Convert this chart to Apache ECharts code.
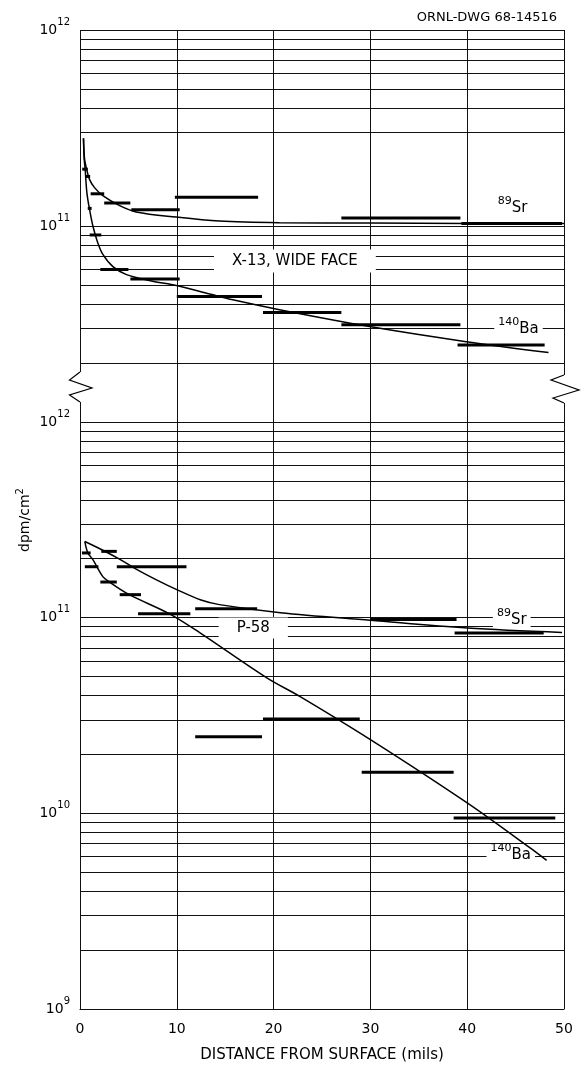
<!DOCTYPE html>
<html><head><meta charset="utf-8">
<script src="https://cdn.jsdelivr.net/npm/echarts@6/dist/echarts.min.js"></script>
<style>html,body{margin:0;padding:0;background:#fff}#c{width:581px;height:1065px}</style>
</head><body><div id="c"></div>
<script>
// ---------- data ----------
const xTicks = [0, 10, 20, 30, 40, 50];
// horizontal rulings of the semi-log paper
const topGridValues = [2e10,3e10,4e10,5e10,6e10,7e10,8e10,9e10,1e11,3e11,4e11,5e11,6e11,7e11,8e11,9e11,1e12];
const bottomGridValues = [1e9,2e9,3e9,4e9,5e9,6e9,7e9,8e9,9e9,1e10,2e10,3e10,4e10,5e10,6e10,7e10,8e10,9e10,1e11,2e11,3e11,4e11,5e11,6e11,7e11,8e11,9e11,1e12];

// X-13, wide face (top panel): fitted curves [x, dpm/cm2]
const topSrCurve = [[0.36,2.8e11],[0.47,2.2e11],[0.64,1.99e11],[0.98,1.73e11],[1.5,1.57e11],[2.36,1.43e11],[4.1,1.27e11],[5.8,1.18e11],[9.95,1.11e11],[14.4,1.06e11],[20.6,1.04e11],[30,1.035e11],[40,1.03e11],[50,1.03e11]];
const topBaCurve = [[0.36,2.8e11],[0.43,2.2e11],[0.53,1.96e11],[0.71,1.48e11],[0.98,1.22e11],[1.33,1.0e11],[1.84,8.2e10],[2.36,7.16e10],[3.4,6.2e10],[4.8,5.65e10],[7.5,5.23e10],[9.95,4.97e10],[13.4,4.5e10],[15.8,4.2e10],[20.6,3.74e10],[29.9,3.07e10],[39.9,2.57e10],[48.4,2.26e10]];
// measured sections [x from, x to, dpm/cm2]
const topSrBars = [[0.23,0.81,1.95e11],[0.57,1.05,1.79e11],[1.1,2.5,1.46e11],[2.5,5.2,1.31e11],[5.3,10.3,1.21e11],[9.8,18.4,1.40e11],[27,39.3,1.10e11],[39.4,49.8,1.03e11]];
const topBaBars = [[0.8,1.2,1.23e11],[1.0,2.2,9.0e10],[2.1,5.0,6.0e10],[5.2,10.3,5.37e10],[10,18.8,4.37e10],[18.9,27,3.62e10],[27,39.3,3.13e10],[39,48,2.47e10]];

// P-58 (bottom panel)
const bottomSrCurve = [[0.5,2.45e11],[2.36,2.21e11],[4.08,1.99e11],[5.8,1.77e11],[7.9,1.56e11],[10,1.39e11],[12.5,1.23e11],[14.4,1.165e11],[20.7,1.06e11],[30,9.7e10],[40,8.85e10],[49.8,8.4e10]];
const bottomBaCurve = [[0.5,2.45e11],[0.81,2.14e11],[1.33,1.98e11],[2.36,1.62e11],[3.05,1.52e11],[5.1,1.31e11],[9.25,1.045e11],[12.4,8.35e10],[19.3,4.92e10],[22.7,3.96e10],[30,2.38e10],[40,1.13e10],[46.5,6.65e9],[48.2,5.75e9]];
const bottomSrBars = [[2.2,3.8,2.18e11],[3.8,11.0,1.82e11],[11.9,18.3,1.11e11],[30,38.9,9.77e10],[38.7,47.9,8.35e10]];
const bottomBaBars = [[0.2,1.1,2.14e11],[0.5,1.9,1.82e11],[2.1,3.8,1.52e11],[4.1,6.3,1.31e11],[6.0,11.4,1.045e11],[11.9,18.8,2.46e10],[18.9,28.9,3.03e10],[29.1,38.6,1.62e10],[38.6,49.1,9.47e9]];

// annotations [text, x, dpm/cm2]
const topNotes = [['{b|X-13, WIDE FACE}', 22.2, 6.63e10], ['{s|89}{b|Sr}', 44.7, 1.24e11], ['{s|140}{b|Ba}', 45.3, 2.98e10]];
const bottomNotes = [['{b|P-58}', 17.9, 8.85e10], ['{s|89}{b|Sr}', 44.6, 0.97e11], ['{s|140}{b|Ba}', 44.5, 6.1e9]];

// ---------- chart ----------
const FONT = 'DejaVu Sans';
const chart = echarts.init(document.getElementById('c'));

const yLabel = {
  show: true, margin: 10,
  formatter: v => { const e = Math.log10(v), r = Math.round(e); return Math.abs(e - r) < 1e-6 ? '{b|10}{s|' + r + '}' : ''; },
  rich: {
    b: {fontSize: 14, fontFamily: FONT, color: '#000', verticalAlign: 'bottom', lineHeight: 14},
    s: {fontSize: 10, fontFamily: FONT, color: '#000', verticalAlign: 'bottom', lineHeight: 10, padding: [0, 0, 10, 0]}
  }
};
const splitX = {show: true, lineStyle: {color: '#111', width: 1}};

function gridLines(vals) {
  return {silent: true, symbol: ['none', 'none'], label: {show: false}, animation: false, z: 1,
    lineStyle: {color: '#111', width: 1, type: 'solid'}, emphasis: {disabled: true},
    data: vals.map(v => ({yAxis: v}))};
}
function curve(data, idx, marks) {
  const s = {type: 'line', xAxisIndex: idx, yAxisIndex: idx, data: data, smooth: 0.35, symbol: 'none',
    lineStyle: {color: '#000', width: 1.5}, z: 3, animation: false, silent: true};
  if (marks) s.markLine = gridLines(marks);
  return s;
}
function bars(data, idx) {
  return {type: 'custom', xAxisIndex: idx, yAxisIndex: idx, data: data, encode: {x: [0, 1], y: 2},
    z: 4, animation: false, silent: true,
    renderItem: (params, api) => {
      const a = api.coord([api.value(0), api.value(2)]);
      const b = api.coord([api.value(1), api.value(2)]);
      return {type: 'line', shape: {x1: a[0], y1: a[1], x2: b[0], y2: b[1]}, style: {stroke: '#000', lineWidth: 3}};
    }};
}
function notes(list, idx) {
  return {type: 'scatter', xAxisIndex: idx, yAxisIndex: idx, symbolSize: 1, itemStyle: {color: '#fff', opacity: 1},
    z: 2, animation: false, silent: true,
    label: {show: true, position: 'inside', backgroundColor: '#fff', padding: [2, 4], color: '#000', textBorderWidth: 0,
      formatter: p => p.data.txt,
      rich: {
        b: {fontSize: 15, fontFamily: FONT, color: '#000', textBorderWidth: 0, verticalAlign: 'bottom', lineHeight: 15},
        s: {fontSize: 11, fontFamily: FONT, color: '#000', textBorderWidth: 0, verticalAlign: 'bottom', lineHeight: 11, padding: [0, 0, 9, 0]}
      }},
    data: list.map(n => ({value: [n[1], n[2]], txt: n[0],
      label: n[0].indexOf('X-13') >= 0 ? {padding: [4, 18]} : (n[0].indexOf('P-58') >= 0 ? {padding: [3, 18]} : {})}))};
}

chart.setOption({
  animation: false,
  backgroundColor: '#fff',
  title: {text: 'ORNL-DWG 68-14516', right: 19, top: 6, textStyle: {fontSize: 13, fontWeight: 'normal', fontFamily: FONT, color: '#000'}},
  grid: [
    {left: 80, right: 17, top: 30, height: 333, containLabel: false, outerBoundsMode: 'none'},
    {left: 80, right: 17, top: 363, height: 646, containLabel: false, outerBoundsMode: 'none'}
  ],
  xAxis: [
    {type: 'value', gridIndex: 0, min: 0, max: 50, interval: 10, axisLine: {show: false}, axisTick: {show: false}, axisLabel: {show: false}, splitLine: splitX},
    {type: 'value', gridIndex: 1, min: 0, max: 50, interval: 10, axisLine: {show: true, lineStyle: {color: '#000', width: 1}}, axisTick: {show: false},
      axisLabel: {show: true, margin: 13, fontSize: 14, fontFamily: FONT, color: '#000', formatter: v => xTicks.indexOf(v) >= 0 ? String(v) : ''},
      splitLine: splitX,
      name: 'DISTANCE FROM SURFACE (mils)', nameLocation: 'middle', nameGap: 39,
      nameTextStyle: {fontSize: 15, fontFamily: FONT, color: '#000'}}
  ],
  yAxis: [
    {type: 'log', logBase: 10, gridIndex: 0, min: 2e10, max: 1e12, axisLine: {show: false}, axisTick: {show: false}, splitLine: {show: false}, axisLabel: yLabel},
    {type: 'log', logBase: 10, gridIndex: 1, min: 1e9, max: 2e12, axisLine: {show: false}, axisTick: {show: false}, splitLine: {show: false}, axisLabel: yLabel}
  ],
  series: [
    curve(topSrCurve, 0, topGridValues), curve(topBaCurve, 0), bars(topSrBars, 0), bars(topBaBars, 0), notes(topNotes, 0),
    curve(bottomSrCurve, 1, bottomGridValues), curve(bottomBaCurve, 1), bars(bottomSrBars, 1), bars(bottomBaBars, 1), notes(bottomNotes, 1)
  ]
});

// axis break marks and y-axis title
const p = chart.convertToPixel({xAxisIndex: 1, yAxisIndex: 1}, [0, 2e12]);
const q = chart.convertToPixel({xAxisIndex: 1, yAxisIndex: 1}, [50, 2e12]);
chart.setOption({graphic: [
  {type: 'rect', z: 50, shape: {x: p[0] - 2, y: p[1] + 9, width: 4, height: 30}, style: {fill: '#fff'}},
  {type: 'polyline', z: 51, shape: {points: [[p[0], p[1] + 9], [p[0] - 10.5, p[1] + 17], [p[0] + 12, p[1] + 25], [p[0] - 10.5, p[1] + 32], [p[0], p[1] + 39]]}, style: {stroke: '#000', lineWidth: 1.2, fill: null}},
  {type: 'rect', z: 50, shape: {x: q[0] - 2, y: q[1] + 12, width: 4, height: 28}, style: {fill: '#fff'}},
  {type: 'polyline', z: 51, shape: {points: [[q[0], q[1] + 12], [q[0] - 13, q[1] + 17], [q[0] + 15, q[1] + 27], [q[0] - 11, q[1] + 35], [q[0], q[1] + 40]]}, style: {stroke: '#000', lineWidth: 1.2, fill: null}},
  {type: 'text', z: 60, x: 25, y: 520, rotation: Math.PI / 2,
    style: {text: 'dpm/cm{s|2}', fontSize: 14, fontFamily: FONT, fill: '#000', align: 'center', verticalAlign: 'middle',
      rich: {s: {fontSize: 10, fontFamily: FONT, fill: '#000', verticalAlign: 'bottom', padding: [0, 0, 9, 0]}}}}
]});
</script></body></html>
